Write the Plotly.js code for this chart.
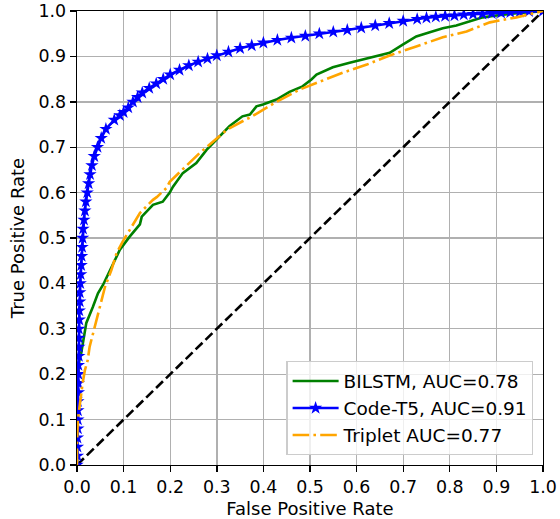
<!DOCTYPE html>
<html>
<head>
<meta charset="utf-8">
<script src="https://cdn.plot.ly/plotly-3.0.1.min.js"></script>
<style>html,body{margin:0;padding:0;background:#fff;}#chart{width:560px;height:519px;}</style>
</head>
<body>
<div id="chart"></div>
<script>
// Reference diagonal
const diagX = [0, 1];
const diagY = [0, 1];

// BILSTM, AUC=0.78
const bilstmFpr = [0,0,0.002,0.005,0.009,0.015,0.019,0.020,0.034,0.045,0.056,0.074,0.092,0.113,0.135,0.139,0.163,0.184,0.199,0.206,0.227,0.256,0.278,0.306,0.327,0.355,0.371,0.385,0.399,0.428,0.456,0.484,0.503,0.514,0.549,0.585,0.622,0.671,0.699,0.728,0.757,0.785,0.814,0.843,0.871,0.900,0.943,0.993,1.0];
const bilstmTpr = [0,0.10,0.20,0.23,0.246,0.28,0.30,0.313,0.348,0.378,0.397,0.437,0.474,0.503,0.530,0.547,0.573,0.580,0.600,0.613,0.643,0.665,0.694,0.724,0.746,0.768,0.772,0.790,0.794,0.805,0.822,0.834,0.849,0.860,0.876,0.886,0.895,0.908,0.926,0.944,0.953,0.962,0.968,0.977,0.986,0.990,0.995,0.999,1.0];

// Code-T5, AUC=0.91
const codet5Fpr = [0,0.001,0.001,0.001,0.002,0.002,0.002,0.002,0.003,0.003,0.003,0.003,0.004,0.004,0.004,0.004,0.005,0.005,0.006,0.006,0.007,0.008,0.009,0.010,0.011,0.012,0.013,0.015,0.017,0.019,0.022,0.025,0.028,0.032,0.037,0.044,0.052,0.062,0.080,0.092,0.100,0.110,0.120,0.130,0.140,0.155,0.170,0.185,0.200,0.220,0.240,0.260,0.280,0.300,0.325,0.350,0.375,0.400,0.430,0.460,0.490,0.520,0.550,0.580,0.610,0.640,0.670,0.700,0.730,0.750,0.770,0.790,0.810,0.830,0.850,0.870,0.890,0.910,0.930,0.950,0.970,1.0];
const codet5Tpr = [0,0.02,0.04,0.06,0.08,0.10,0.12,0.14,0.16,0.18,0.20,0.22,0.24,0.26,0.28,0.30,0.32,0.34,0.36,0.38,0.40,0.42,0.44,0.46,0.48,0.50,0.52,0.54,0.56,0.58,0.60,0.62,0.64,0.66,0.68,0.70,0.72,0.74,0.76,0.77,0.777,0.787,0.80,0.81,0.82,0.83,0.84,0.85,0.86,0.87,0.88,0.888,0.895,0.902,0.91,0.918,0.924,0.93,0.936,0.941,0.945,0.95,0.954,0.958,0.963,0.968,0.973,0.978,0.982,0.985,0.987,0.989,0.990,0.992,0.993,0.994,0.995,0.996,0.997,0.998,0.999,1.0];

// Triplet AUC=0.77
const tripletFpr = [0,0,0.002,0.007,0.012,0.017,0.023,0.027,0.042,0.053,0.060,0.074,0.085,0.098,0.117,0.135,0.163,0.171,0.192,0.199,0.263,0.321,0.364,0.371,0.392,0.428,0.478,0.514,0.570,0.622,0.671,0.728,0.785,0.836,0.886,0.943,0.993,1.0];
const tripletTpr = [0,0.05,0.10,0.143,0.18,0.209,0.231,0.26,0.319,0.363,0.392,0.43,0.467,0.492,0.525,0.555,0.584,0.59,0.61,0.624,0.687,0.738,0.762,0.765,0.778,0.80,0.827,0.842,0.864,0.882,0.902,0.922,0.942,0.955,0.975,0.986,0.997,1.0];

const tickVals = [0,0.1,0.2,0.3,0.4,0.5,0.6,0.7,0.8,0.9,1.0];
const tickText = ["0.0","0.1","0.2","0.3","0.4","0.5","0.6","0.7","0.8","0.9","1.0"];

const FS = 17.4;

const traces = [
  {x: diagX, y: diagY, mode: 'lines', line: {color: 'black', width: 2.6, dash: '9.6px,4.2px'}, showlegend: false, hoverinfo: 'skip'},
  {x: bilstmFpr, y: bilstmTpr, mode: 'lines', name: 'BILSTM, AUC=0.78', line: {color: 'green', width: 2.6}},
  {x: codet5Fpr, y: codet5Tpr, mode: 'lines+markers', name: 'Code-T5, AUC=0.91', line: {color: 'blue', width: 2.6}, marker: {symbol: 'star', size: 10, color: 'blue'}},
  {x: tripletFpr, y: tripletTpr, mode: 'lines', name: 'Triplet AUC=0.77', line: {color: 'orange', width: 2.6, dash: '16.6px,4.2px,2.6px,4.2px'}}
];

const axisCommon = {
  range: [0, 1],
  tickvals: tickVals,
  ticktext: tickText,
  showgrid: true,
  gridcolor: '#b0b0b0',
  gridwidth: 1.4,
  zeroline: false,
  showline: true,
  linecolor: 'black',
  linewidth: 1.4,
  mirror: true,
  ticks: 'outside',
  ticklen: 6,
  tickwidth: 1.4,
  tickcolor: 'black',
  tickfont: {size: FS, color: 'black', family: 'DejaVu Sans'}
};

const layout = {
  width: 560,
  height: 519,
  margin: {l: 77, r: 17, t: 11, b: 54},
  paper_bgcolor: 'white',
  plot_bgcolor: 'white',
  font: {family: 'DejaVu Sans', size: FS, color: 'black'},
  xaxis: Object.assign({}, axisCommon, {title: {text: 'False Positive Rate', font: {size: 18}, standoff: 8}}),
  yaxis: Object.assign({}, axisCommon, {title: {text: 'True Positive Rate', font: {size: 18}, standoff: 9}}),
  legend: {
    x: 0.979, y: 0.022, xanchor: 'right', yanchor: 'bottom',
    bgcolor: 'rgba(255,255,255,0.8)',
    bordercolor: '#cccccc',
    borderwidth: 1.4,
    itemwidth: 46,
    font: {size: 18.5, family: 'DejaVu Sans', color: 'black'},
    tracegroupgap: 0
  },
  showlegend: true
};

Plotly.newPlot('chart', traces, layout, {displayModeBar: false, staticPlot: true});
</script>
</body>
</html>
